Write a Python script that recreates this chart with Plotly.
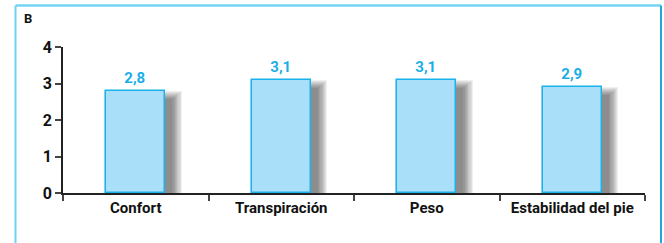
import plotly.graph_objects as go

categories = ["Confort", "Transpiración", "Peso", "Estabilidad del pie"]
values = [2.8, 3.1, 3.1, 2.9]
value_labels = ["2,8", "3,1", "3,1", "2,9"]
y_ticks = [0, 1, 2, 3, 4]
panel_label = "B"

BW = 0.405
fig = go.Figure()

# soft drop shadow: many translucent layers with growing spread (blur approximation)
n_layers = 9
for i in range(n_layers):
    s = 0.065 * (n_layers - 1 - i) / (n_layers - 1)
    dx = 0.05
    dy = 0.22
    vs = s * 3.5
    fig.add_trace(go.Bar(
        x=categories, y=[v + 2 * vs for v in values], base=[-dy - vs] * len(values),
        width=BW + 2 * s, offset=-BW / 2 + dx - s,
        marker=dict(color="rgba(20,20,20,0.065)", line=dict(width=0)),
        hoverinfo="skip", showlegend=False,
    ))

fig.add_trace(go.Bar(
    x=categories, y=values, width=BW, offset=-BW / 2,
    marker=dict(color="#aadff9", line=dict(color="#1ab2ea", width=1.5)),
    text=value_labels, textposition="outside", cliponaxis=False,
    textfont=dict(family="Roboto", size=15, color="#1aaee6", weight="bold"),
    showlegend=False,
))

fig.update_layout(
    width=664, height=243,
    margin=dict(l=63, r=19, t=47, b=50),
    paper_bgcolor="white", plot_bgcolor="white",
    barmode="overlay", bargap=0,
    font=dict(family="Roboto", color="#111111"),
    xaxis=dict(
        type="category", tickson="boundaries", ticks="outside", ticklen=6,
        tickcolor="#444", tickwidth=1.5, showline=True, linecolor="#222", linewidth=1.5,
        showgrid=False, tickfont=dict(size=15, weight="bold", color="#111"),
    ),
    yaxis=dict(
        range=[0, 4], tickvals=y_ticks, ticks="outside", ticklen=6, tickcolor="#444",
        tickwidth=1.5, showline=True, linecolor="#222", linewidth=1.5, showgrid=False,
        zeroline=False, tickfont=dict(size=16, weight="bold", color="#111"),
    ),
    shapes=[
        dict(type="line", xref="paper", yref="paper", x0=-0.0816, x1=1.0275,
             y0=1.284, y1=1.284, line=dict(color="#74d3f5", width=2.5)),
        dict(type="line", xref="paper", yref="paper", x0=-0.0816, x1=-0.0816,
             y0=1.284, y1=-0.45, line=dict(color="#6fd0f5", width=2)),
        dict(type="line", xref="paper", yref="paper", x0=1.0275, x1=1.0275,
             y0=1.284, y1=-0.45, line=dict(color="#22a6e0", width=2)),
    ],
    annotations=[dict(
        text=panel_label, xref="paper", yref="paper", x=-0.071, y=1.195,
        xanchor="left", yanchor="middle", showarrow=False,
        font=dict(size=13, weight="bold", color="#111"),
    )],
)

fig.write_html(
    "out.html",
    config={"displayModeBar": False},
    post_script="document.body.style.margin='0';document.body.style.overflow='hidden';",
)
